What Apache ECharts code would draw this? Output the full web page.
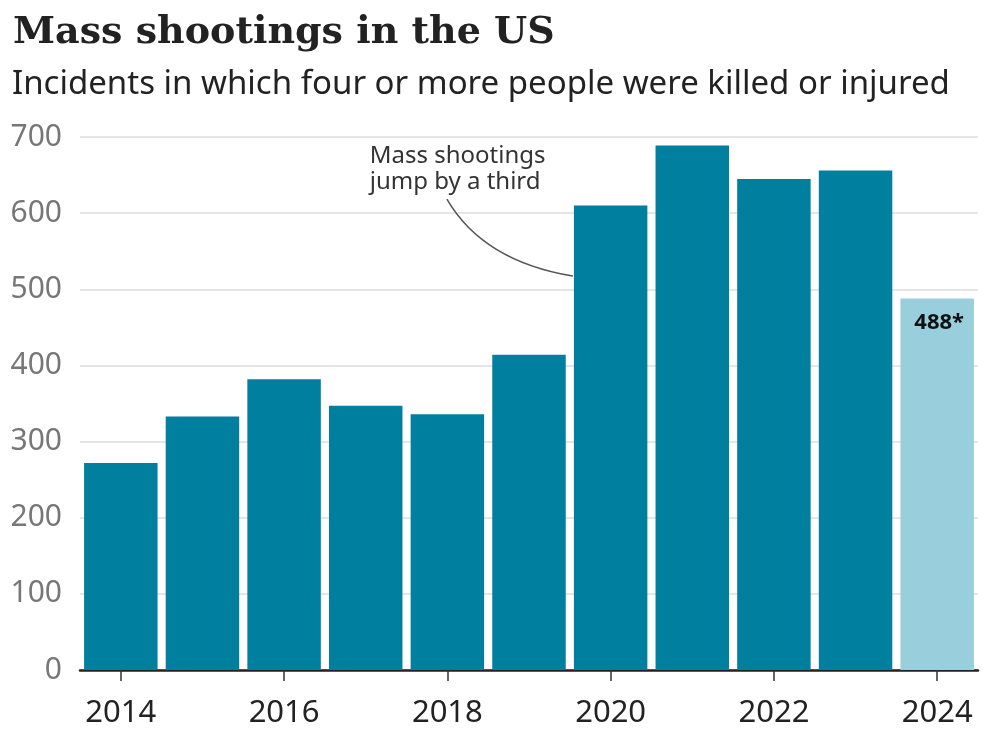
<!DOCTYPE html>
<html><head><meta charset="utf-8">
<script src="https://cdn.jsdelivr.net/npm/echarts@6/dist/echarts.min.js"></script>
<style>html,body{margin:0;padding:0;background:#fff}#c{width:1000px;height:740px}</style>
</head><body><div id="c"></div>
<script>
const years = ['2014','2015','2016','2017','2018','2019','2020','2021','2022','2023','2024'];
const shootings = [272, 333, 382, 347, 336, 414, 610, 689, 645, 656, 488];
const partialYear = '2024';
const yTicks = [0, 100, 200, 300, 400, 500, 600, 700];
const annotationText = 'Mass shootings\njump by a third';

const chart = echarts.init(document.getElementById('c'), null, {renderer: 'canvas'});
const dark = '#007f9f', light = '#99cfdc';
chart.setOption({
  animation: false,
  title: [
    {text: 'Mass shootings in the US', left: 8, top: 9,
     textStyle: {fontFamily: 'DejaVu Serif', fontWeight: 'bold', fontSize: 38, color: '#222'}},
    {text: 'Incidents in which four or more people were killed or injured', left: 7, top: 63,
     textStyle: {fontFamily: 'Noto Sans', fontWeight: 'normal', fontSize: 33, color: '#222'}}
  ],
  grid: {left: 80, right: 22, top: 137, bottom: 70},
  xAxis: {
    type: 'category', data: years,
    axisLine: {lineStyle: {color: '#222', width: 2.5}},
    axisTick: {show: true, alignWithLabel: true, interval: 1, length: 11, lineStyle: {color: '#333', width: 1.5}},
    axisLabel: {interval: 1, margin: 28, fontSize: 31, color: '#222', fontFamily: 'Noto Sans'}
  },
  yAxis: {
    type: 'value', min: yTicks[0], max: yTicks[yTicks.length-1], interval: 100,
    axisLine: {show: false}, axisTick: {show: false},
    splitLine: {lineStyle: {color: '#dcdcdc', width: 1.5}},
    axisLabel: {margin: 18, fontSize: 30, color: '#777', fontFamily: 'Noto Sans', align: 'right'}
  },
  series: [{
    type: 'bar', barCategoryGap: '10%',
    data: years.map((y, i) => ({
      value: shootings[i],
      itemStyle: {color: y === partialYear ? light : dark},
      label: y === partialYear ? {show: true, position: 'insideTop', offset: [2, 8],
        formatter: '{c}*', fontSize: 22, fontWeight: 'bold', color: '#111', fontFamily: 'Noto Sans'} : {show: false}
    }))
  }]
});

// annotation, anchored to data positions
const iJump = years.indexOf('2020');
const barW = chart.convertToPixel({xAxisIndex: 0}, years[1]) - chart.convertToPixel({xAxisIndex: 0}, years[0]);
const end = chart.convertToPixel({xAxisIndex: 0, yAxisIndex: 0}, [years[iJump], 520]);
const ex = end[0] - barW * 0.45 - 1, ey = end[1] + 2;
const txtPos = chart.convertToPixel({xAxisIndex: 0, yAxisIndex: 0}, [years[iJump-3], 692]);
chart.setOption({
  graphic: [
    {type: 'text', left: txtPos[0] + 4, top: txtPos[1],
     style: {text: annotationText, font: '24px "Noto Sans"', fill: '#333', lineHeight: 26}},
    {type: 'bezierCurve', shape: {x1: ex - 126, y1: ey - 77, cpx1: ex - 90, cpy1: ey - 15, x2: ex, y2: ey},
     style: {stroke: '#555', lineWidth: 1.5, fill: null}}
  ]
});
</script></body></html>
